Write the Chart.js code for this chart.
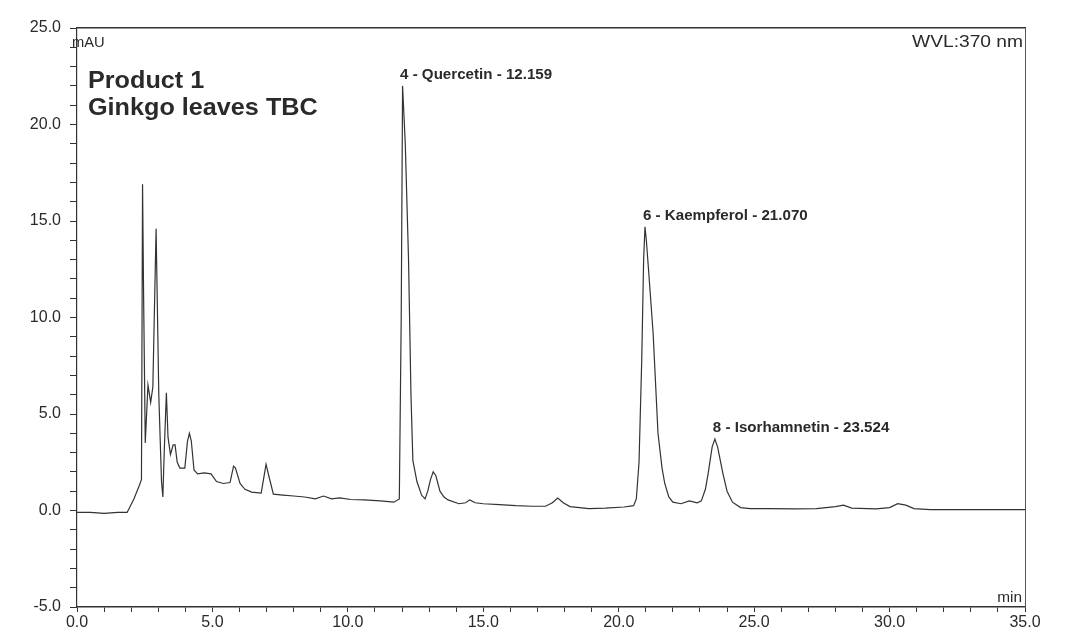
<!DOCTYPE html>
<html>
<head>
<meta charset="utf-8">
<title>Product 1 - Ginkgo leaves TBC</title>
<script src="https://cdn.jsdelivr.net/npm/chart.js@4/dist/chart.umd.min.js"></script>
<style>
    html, body { margin: 0; padding: 0; background: #fff; }
    #wrap { width: 1065px; height: 639px; }
</style>
</head>
<body>
<div id="wrap"><canvas id="chart" width="1065" height="639"></canvas></div>
<script>
// retention time (min) and signal (mAU)
const times = [
    0.0, 0.5, 1.0, 1.5, 1.85, 2.1, 2.3, 2.38, 2.42, 2.46, 2.52, 2.62, 2.72, 2.8, 2.92, 3.02,
    3.12, 3.17, 3.22, 3.3, 3.36, 3.45, 3.55, 3.62, 3.7, 3.8, 3.98, 4.08, 4.15, 4.22, 4.32, 4.45,
    4.7, 4.95, 5.15, 5.4, 5.65, 5.78, 5.85, 6.02, 6.2, 6.45, 6.8, 6.92, 6.98, 7.08, 7.25, 7.6,
    8.0, 8.4, 8.8, 9.1, 9.4, 9.7, 10.1, 10.6, 11.2, 11.7, 11.9, 11.97, 12.02, 12.12, 12.24, 12.33,
    12.4, 12.55, 12.72, 12.85, 12.95, 13.05, 13.15, 13.25, 13.4, 13.55, 13.7, 14.1, 14.35, 14.5,
    14.7, 15.0, 15.6, 16.2, 16.8, 17.3, 17.55, 17.75, 17.95, 18.2, 18.9, 19.5, 20.2, 20.55,
    20.65, 20.75, 20.85, 20.92, 20.97, 21.02, 21.1, 21.27, 21.45, 21.6, 21.7, 21.85, 22.0, 22.3,
    22.6, 22.9, 23.05, 23.2, 23.3, 23.45, 23.55, 23.65, 23.85, 24.0, 24.2, 24.5, 24.85, 25.5,
    26.5, 27.3, 28.0, 28.3, 28.6, 29.5, 30.0, 30.3, 30.6, 30.9, 31.5, 33.0, 34.5, 35.0
];
const signal = [
    -0.1, -0.1, -0.15, -0.1, -0.1, 0.6, 1.3, 1.6, 16.9, 11.0, 3.5, 6.5, 5.6, 6.4, 14.6, 6.0,
    1.5, 0.7, 3.0, 6.1, 3.8, 2.9, 3.4, 3.4, 2.5, 2.2, 2.2, 3.6, 4.0, 3.6, 2.1, 1.9,
    1.95, 1.9, 1.5, 1.4, 1.45, 2.3, 2.2, 1.4, 1.1, 0.95, 0.9, 1.9, 2.4, 1.8, 0.85, 0.8,
    0.75, 0.7, 0.6, 0.75, 0.6, 0.65, 0.57, 0.55, 0.5, 0.43, 0.6, 10.0, 22.0, 19.0, 13.0, 6.0,
    2.6, 1.5, 0.8, 0.6, 1.0, 1.6, 2.0, 1.8, 1.0, 0.7, 0.55, 0.35, 0.4, 0.55,
    0.4, 0.35, 0.3, 0.25, 0.22, 0.22, 0.4, 0.65, 0.4, 0.2, 0.1, 0.12, 0.18, 0.25,
    0.6, 2.5, 7.8, 13.0, 14.7, 14.0, 12.5, 9.2, 4.0, 2.2, 1.4, 0.7, 0.43, 0.35,
    0.5, 0.4, 0.5, 1.1, 1.9, 3.3, 3.7, 3.3, 1.9, 1.0, 0.43, 0.15, 0.1, 0.1,
    0.08, 0.1, 0.2, 0.28, 0.12, 0.08, 0.15, 0.35, 0.28, 0.1, 0.05, 0.05, 0.05, 0.05
];

// labelled peaks
const peakNumbers = [4, 6, 8];
const peakNames = ["Quercetin", "Kaempferol", "Isorhamnetin"];
const peakRetention = ["12.159", "21.070", "23.524"];
const peakTimes = [12.0, 20.97, 23.55];
const peakHeights = [22.0, 14.7, 3.7];

const titleLines = ["Product 1", "Ginkgo leaves TBC"];

const textColor = "#2a2a2a";
const axisColor = "#333";
const fontFamily = "'Liberation Sans', Arial, sans-serif";

// the scanned print is a little wider than it is tall, so texts get stretched
function wideText(ctx, text, x, y, stretch, align) {
    ctx.save();
    ctx.translate(x, y);
    ctx.scale(stretch, 1);
    ctx.textAlign = align || "left";
    ctx.fillText(text, 0, 0);
    ctx.restore();
}

const labels = {
    id: "labels",
    afterDraw(chart) {
        const { ctx, chartArea, scales } = chart;
        ctx.save();
        ctx.fillStyle = textColor;
        ctx.textBaseline = "alphabetic";

        // peak annotations
        ctx.font = "bold 14px " + fontFamily;
        for (let i = 0; i < peakNames.length; i++) {
            const px = scales.x.getPixelForValue(peakTimes[i]);
            const py = scales.y.getPixelForValue(peakHeights[i]);
            wideText(ctx, `${peakNumbers[i]} - ${peakNames[i]} - ${peakRetention[i]}`, px - 2, py - 7, 1.08);
        }

        // sample title
        ctx.font = "bold 24px " + fontFamily;
        wideText(ctx, titleLines[0], chartArea.left + 11, 88, 1.05);
        wideText(ctx, titleLines[1], chartArea.left + 11, 115, 1.05);

        // unit and detector texts
        ctx.font = "14px " + fontFamily;
        wideText(ctx, "mAU", chartArea.left - 5, 47, 1.05);
        ctx.font = "16px " + fontFamily;
        wideText(ctx, "WVL:370 nm", chartArea.right - 2, 47, 1.2, "right");
        ctx.font = "14px " + fontFamily;
        wideText(ctx, "min", chartArea.right - 3, chartArea.bottom - 5, 1.1, "right");
        ctx.restore();
    }
};

const tickLabel = v => (Math.abs(v % 5) < 1e-9 ? v.toFixed(1) : "");

new Chart(document.getElementById("chart").getContext("2d"), {
    type: "line",
    data: {
        datasets: [{
            data: times.map((t, i) => ({ x: t, y: signal[i] })),
            borderColor: "#333",
            borderWidth: 1.2,
            pointRadius: 0,
            tension: 0,
            fill: false
        }]
    },
    options: {
        responsive: false,
        animation: false,
        layout: { padding: 0 },
        plugins: {
            legend: { display: false },
            tooltip: { enabled: false }
        },
        scales: {
            x: {
                type: "linear",
                position: "bottom",
                min: 0,
                max: 35,
                afterFit: s => { s.height = 32; },
                ticks: {
                    stepSize: 1,
                    autoSkip: false,
                    maxRotation: 0,
                    padding: 1,
                    color: textColor,
                    font: { family: fontFamily, size: 16 },
                    callback: tickLabel
                },
                grid: {
                    drawOnChartArea: false,
                    tickLength: 5,
                    tickColor: axisColor
                },
                border: { color: axisColor, width: 1.5 }
            },
            xTop: {
                type: "linear",
                axis: "x",
                position: "top",
                min: 0,
                max: 35,
                afterFit: s => { s.height = 28; },
                ticks: { display: false },
                grid: { display: false },
                border: { display: true, color: axisColor, width: 1.5 }
            },
            y: {
                type: "linear",
                position: "left",
                min: -5,
                max: 25,
                afterFit: s => { s.width = 77; },
                ticks: {
                    stepSize: 1,
                    autoSkip: false,
                    padding: 9,
                    color: textColor,
                    font: { family: fontFamily, size: 16 },
                    callback: tickLabel
                },
                grid: {
                    drawOnChartArea: false,
                    tickLength: 7,
                    tickColor: axisColor
                },
                border: { color: axisColor, width: 1.2 }
            },
            yRight: {
                type: "linear",
                axis: "y",
                position: "right",
                min: -5,
                max: 25,
                afterFit: s => { s.width = 40; },
                ticks: { display: false },
                grid: { display: false },
                border: { display: true, color: "#555", width: 1 }
            }
        }
    },
    plugins: [labels]
});
</script>
</body>
</html>
